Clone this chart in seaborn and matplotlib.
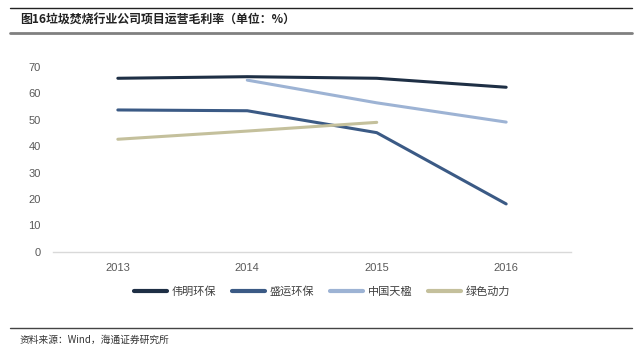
import pandas as pd
import seaborn as sns
import matplotlib.pyplot as plt
from matplotlib.lines import Line2D

# data (gross margin, %)
years = ['2013', '2014', '2015', '2016']
weiming = [65.7, 66.3, 65.7, 62.3]
shengyun = [53.7, 53.4, 45.1, 18.1]
tianying = [None, 65.0, 56.4, 49.1]
lvse = [42.6, 45.7, 49.0, None]
names = ['伟明环保', '盛运环保', '中国天楹', '绿色动力']
colors = ['#1e2f45', '#3b5a85', '#9db3d4', '#c4c09c']

rows = []
for name, vals in zip(names, [weiming, shengyun, tianying, lvse]):
    for y, v in zip(years, vals):
        if v is not None:
            rows.append({'year': y, 'value': v, 'company': name})
df = pd.DataFrame(rows)

sns.set_style('white')
plt.rcParams['font.family'] = ['Noto Sans CJK SC', 'DejaVu Sans']

fig = plt.figure(figsize=(6.4, 3.56), dpi=100)
ax = fig.add_axes([0.083, 0.293, 0.809, 0.519])

pos = {y: i for i, y in enumerate(years)}
df['x'] = df['year'].map(pos)
sns.lineplot(data=df, x='x', y='value', hue='company', hue_order=names,
             palette=colors, linewidth=2.2, ax=ax, legend=False)

ax.set_xlim(-0.5, len(years) - 0.5)
ax.set_ylim(0, 70)
ax.set_xticks(range(len(years)))
ax.set_xticklabels(years)
ax.set_yticks(range(0, 71, 10))
ax.set_xlabel('')
ax.set_ylabel('')
ax.tick_params(axis='both', length=0, labelsize=8, colors='#595959')
ax.tick_params(axis='x', pad=8)
ax.tick_params(axis='y', pad=9)
for lab in ax.get_xticklabels() + ax.get_yticklabels():
    lab.set_family(['Liberation Sans', 'DejaVu Sans'])
for s in ['top', 'right', 'left']:
    ax.spines[s].set_visible(False)
ax.spines['bottom'].set_color('#d9d9d9')
ax.spines['bottom'].set_linewidth(1)

handles = [Line2D([], [], color=c, lw=3, solid_capstyle='round') for c in colors]
fig.legend(handles, names, loc='center', bbox_to_anchor=(0.503, 0.18), ncol=4,
           frameon=False, fontsize=8, handlelength=3.0, handletextpad=0.4,
           columnspacing=1.4, labelcolor='#404040')

# header / footer decorations
fig.add_artist(Line2D([10 / 640, 632 / 640], [1 - 7.5 / 356] * 2, color='#222222', lw=1))
fig.add_artist(Line2D([10 / 640, 632 / 640], [1 - 33 / 356] * 2, color='#808080', lw=2))
fig.text(20 / 640, 1 - 19 / 356, '图16垃圾焚烧行业公司项目运营毛利率（单位：%）',
         fontsize=8.6, fontweight='bold', va='center', ha='left', color='#222222')
fig.add_artist(Line2D([10 / 640, 632 / 640], [1 - 327.5 / 356] * 2, color='#444444', lw=1))
fig.text(20 / 640, 1 - 340 / 356, '资料来源：Wind，海通证券研究所',
         fontsize=7, va='center', ha='left', color='#333333')

fig.savefig('out.png', dpi=100)
